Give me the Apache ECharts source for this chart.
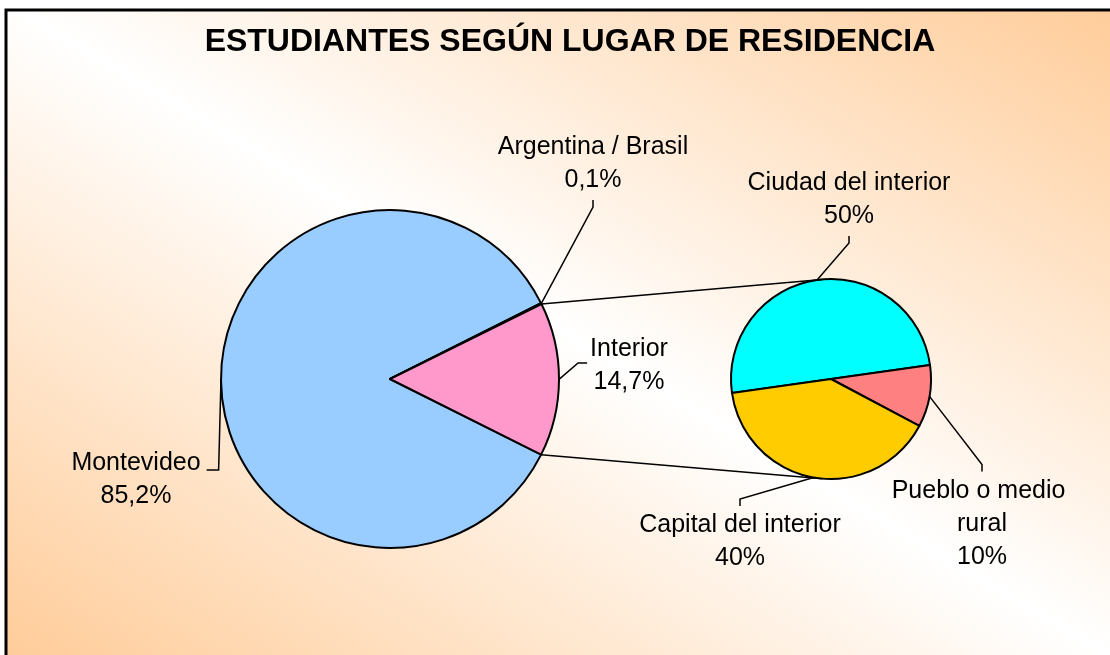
<!DOCTYPE html>
<html>
<head>
<meta charset="utf-8">
<script src="https://cdn.jsdelivr.net/npm/echarts@6/dist/echarts.min.js"></script>
<style>
  html, body { margin: 0; padding: 0; background: #fff; }
  #chart { width: 1110px; height: 655px; }
</style>
</head>
<body>
<div id="chart"></div>
<script>
  // datos del gráfico
  const titleText = 'ESTUDIANTES SEGÚN LUGAR DE RESIDENCIA';
  const mainCategories = ['Montevideo', 'Argentina / Brasil', 'Interior'];
  const mainValues = [85.2, 0.1, 14.7];
  const subCategories = ['Ciudad del interior', 'Pueblo o medio rural', 'Capital del interior'];
  const subValues = [50, 10, 40];

  // estilos
  const mainColors = ['#99CCFF', '#000080', '#FF99CC'];
  const subColors = ['#00FFFF', '#FF8080', '#FFCC00'];
  const mainCenter = [390, 379], mainRadius = 169, mainStart = 333.4;
  const subCenter = [831, 379], subRadius = 100, subStart = 188;
  // posición de las etiquetas (centro del bloque de texto) y lado por donde llega la guía
  const mainLabelPos = [[136, 480], [593, 164], [629, 366]];
  const mainLabelSide = ['right', 'bottom', 'left'];
  const subLabelPos = [[849, 200], [982, 524], [740, 542]];
  const subLabelSide = ['bottom', 'top', 'top'];

  const font = 'Liberation Sans, Arial, sans-serif';
  const W = 1110, H = 655;

  var chartDom = document.getElementById('chart');
  var myChart = echarts.init(chartDom);

  const fmt = (p) => p.name + '\n' + String(p.value).replace('.', ',') + '%';

  // puntos del sector "Interior" en la torta principal
  const total = mainValues.reduce((a, b) => a + b, 0);
  const before = mainValues.slice(0, 2).reduce((a, b) => a + b, 0);
  const angTop = (mainStart - before / total * 360) * Math.PI / 180;
  const angBot = mainStart * Math.PI / 180;
  const pTop = [mainCenter[0] + mainRadius * Math.cos(angTop), mainCenter[1] - mainRadius * Math.sin(angTop)];
  const pBot = [mainCenter[0] + mainRadius * Math.cos(angBot), mainCenter[1] - mainRadius * Math.sin(angBot)];

  // tangentes a la torta secundaria
  const tangent = (p, sign) => {
    const vx = p[0] - subCenter[0], vy = p[1] - subCenter[1];
    const d = Math.sqrt(vx * vx + vy * vy);
    const phi = Math.atan2(vy, vx);
    const a = phi + sign * Math.acos(subRadius / d);
    return [subCenter[0] + subRadius * Math.cos(a), subCenter[1] + subRadius * Math.sin(a)];
  };
  const tTop = tangent(pTop, 1);
  const tBot = tangent(pBot, -1);

  // degradado de fondo (diagonal, blanco al centro)
  const dx = H / Math.sqrt(W * W + H * H), dy = -W / Math.sqrt(W * W + H * H);
  const half = (W / 2) * dx + (-H / 2) * dy;
  const bg = {
    type: 'linear',
    global: true,
    x: W / 2 - half * dx, y: H / 2 - half * dy,
    x2: W / 2 + half * dx, y2: H / 2 + half * dy,
    colorStops: [
      { offset: 0, color: '#FFCC99' },
      { offset: 0.5, color: '#FFFFFF' },
      { offset: 1, color: '#FFCC99' },
    ],
  };

  // guía estilo Excel: del borde del sector a la etiqueta, con un tramo corto final
  const makeLayout = (posList, sideList) => (p) => {
    const pos = posList[p.dataIndex];
    const side = sideList[p.dataIndex];
    const w = p.labelRect.width, h = p.labelRect.height;
    const start = p.labelLinePoints ? p.labelLinePoints[0] : null;
    let end, bend;
    if (side === 'bottom') {
      end = [pos[0], pos[1] + h / 2 + 3];
      bend = [pos[0], end[1] + 7];
    } else if (side === 'top') {
      end = [pos[0], pos[1] - h / 2 - 3];
      bend = [pos[0], end[1] - 7];
    } else if (side === 'left') {
      end = [pos[0] - w / 2 - 3, pos[1] - 3];
      bend = [end[0] - 9, end[1]];
    } else {
      end = [pos[0] + w / 2 + 6, pos[1] - 10];
      bend = [end[0] + 12, end[1]];
    }
    const res = { x: pos[0], y: pos[1], align: 'center', verticalAlign: 'middle' };
    if (start) res.labelLinePoints = [start, bend, end];
    return res;
  };

  const labelBase = {
    show: true,
    position: 'outside',
    formatter: fmt,
    color: '#000',
    fontFamily: font,
    fontSize: 25,
    lineHeight: 33,
  };
  const labelLineBase = {
    show: true,
    length: 15,
    length2: 8,
    lineStyle: { color: '#000', width: 1.5 },
  };

  var option = {
    backgroundColor: '#fff',
    animation: false,
    title: {
      text: titleText,
      left: 565,
      top: 21,
      textAlign: 'center',
      textStyle: { fontFamily: font, fontSize: 32, fontWeight: 'bold', color: '#000' },
    },
    graphic: [
      {
        type: 'rect',
        z: -10,
        shape: { x: 6, y: 10, width: W + 20, height: H + 20 },
        style: { fill: bg, stroke: '#000', lineWidth: 3 },
      },
      {
        type: 'line',
        z: 10,
        shape: { x1: pTop[0], y1: pTop[1], x2: tTop[0], y2: tTop[1] },
        style: { stroke: '#000', lineWidth: 1.5 },
      },
      {
        type: 'line',
        z: 10,
        shape: { x1: pBot[0], y1: pBot[1], x2: tBot[0], y2: tBot[1] },
        style: { stroke: '#000', lineWidth: 1.5 },
      },
    ],
    series: [
      {
        type: 'pie',
        center: mainCenter,
        radius: mainRadius,
        startAngle: mainStart,
        clockwise: true,
        avoidLabelOverlap: false,
        minShowLabelAngle: 0,
        itemStyle: { borderColor: '#000', borderWidth: 2 },
        label: labelBase,
        labelLine: labelLineBase,
        labelLayout: makeLayout(mainLabelPos, mainLabelSide),
        emphasis: { disabled: true },
        data: mainCategories.map((c, i) => ({
          name: c,
          value: mainValues[i],
          itemStyle: { color: mainColors[i] },
        })),
      },
      {
        type: 'pie',
        center: subCenter,
        radius: subRadius,
        startAngle: subStart,
        clockwise: true,
        avoidLabelOverlap: false,
        itemStyle: { borderColor: '#000', borderWidth: 2 },
        label: labelBase,
        labelLine: labelLineBase,
        labelLayout: makeLayout(subLabelPos, subLabelSide),
        emphasis: { disabled: true },
        data: subCategories.map((c, i) => ({
          name: c,
          value: subValues[i],
          itemStyle: { color: subColors[i] },
          label: i === 1 ? { width: 185, overflow: 'break' } : {},
        })),
      },
    ],
  };

  option && myChart.setOption(option);
</script>
</body>
</html>
